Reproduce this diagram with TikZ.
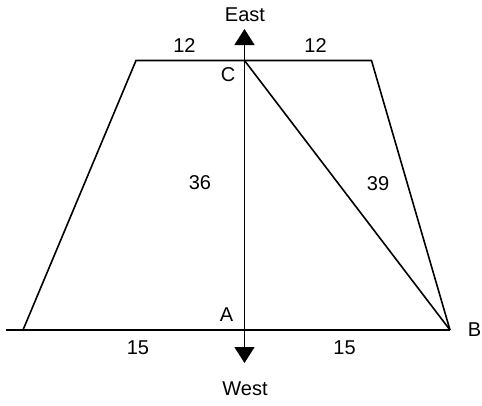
\documentclass[tikz,border=0pt]{standalone}
\usepackage{fontspec}
\setmainfont{Liberation Sans}
\usetikzlibrary{arrows.meta}
\begin{document}
\begin{tikzpicture}[x=1pt,y=-1pt,
  edge/.style={line width=1.6pt,line join=miter},
  lbl/.style={inner sep=0pt,font=\fontsize{20}{24}\selectfont}]
\useasboundingbox (0,0) rectangle (482,405);
% vertices
\coordinate (TL) at (136,60.5);
\coordinate (C) at (244.5,60.5);
\coordinate (TR) at (371.5,60.5);
\coordinate (BL) at (23,330);
\coordinate (A) at (244.5,330);
\coordinate (B) at (450,330);
\coordinate (L) at (6,330);
\coordinate (N) at (244.5,29);
\coordinate (S) at (244.5,363);
% trapezoid
\draw[edge] (BL) -- (TL) -- (C) -- (TR) -- (B);
\draw[edge] (L) -- (A) -- (B);
\draw[edge] (C) -- (B);
% axis
\draw[edge,{Triangle[width=20pt,length=16pt]}-{Triangle[width=20pt,length=16pt]}] (S) -- (N);
% labels
\node[lbl] (east) at (245,14.5) {East};
\node[lbl] (west) at (245,389) {West};
\node[lbl] (lC) at (228,75) {C};
\node[lbl] (lA) at (226.5,315) {A};
\node[lbl,anchor=east] (lB) at (481.5,330) {B};
\node[lbl] (t1) at (184.5,45.5) {12};
\node[lbl] (t2) at (315.5,45.5) {12};
\node[lbl] (h) at (200,183) {36};
\node[lbl] (d) at (378,183.5) {39};
\node[lbl] (b1) at (138,348) {15};
\node[lbl] (b2) at (344.5,347.5) {15};
\end{tikzpicture}
\end{document}
